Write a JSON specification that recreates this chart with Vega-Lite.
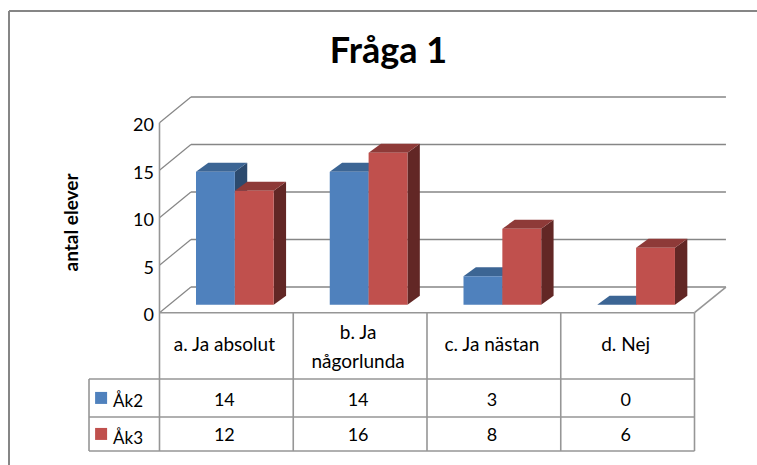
{
"$schema":"https://vega.github.io/schema/vega-lite/v6.json",
"width":757,"height":465,"padding":0,"autosize":{"type":"none"},"background":"white",
"title":{"text":"Fråga 1","font":"Lato","fontSize":36,"fontWeight":"bold","color":"#000000","anchor":"middle","dx":10,"offset":-71},
"config":{"view":{"stroke":null}},
"datasets":{
"bars":[
{"cat":"a. Ja absolut","i":0,"series":"Åk2","s":0,"value":14},
{"cat":"a. Ja absolut","i":0,"series":"Åk3","s":1,"value":12},
{"cat":"b. Ja\nnågorlunda","i":1,"series":"Åk2","s":0,"value":14},
{"cat":"b. Ja\nnågorlunda","i":1,"series":"Åk3","s":1,"value":16},
{"cat":"c. Ja nästan","i":2,"series":"Åk2","s":0,"value":3},
{"cat":"c. Ja nästan","i":2,"series":"Åk3","s":1,"value":8},
{"cat":"d. Nej","i":3,"series":"Åk2","s":0,"value":0},
{"cat":"d. Nej","i":3,"series":"Åk3","s":1,"value":6}],
"grid":[{"v":0},{"v":5},{"v":10},{"v":15},{"v":20}],
"lines":[
{"x1":0,"x2":0,"y1":20,"y2":-14.56},
{"x1":1,"x2":1,"y1":0,"y2":-14.56},
{"x1":2,"x2":2,"y1":0,"y2":-14.56},
{"x1":3,"x2":3,"y1":0,"y2":-14.56},
{"x1":4,"x2":4,"y1":0,"y2":-14.56},
{"x1":-0.527,"x2":-0.527,"y1":-6.98,"y2":-14.56},
{"x1":0,"x2":4,"y1":0,"y2":0},
{"x1":-0.527,"x2":4,"y1":-6.98,"y2":-6.98},
{"x1":-0.527,"x2":4,"y1":-10.97,"y2":-10.97},
{"x1":-0.527,"x2":4,"y1":-14.56,"y2":-14.56},
{"x1":4,"x2":4.2351,"y1":0,"y2":2.705}],
"frame":[
{"x1":-1.1252,"x2":4.4673,"y1":31.76,"y2":31.76},
{"x1":-1.1252,"x2":-1.1252,"y1":31.76,"y2":-16.03}]
},
"layer":[
{"data":{"name":"grid"},
 "transform":[{"calculate":"datum.v+2.705","as":"yb"},{"calculate":"0","as":"x0"},{"calculate":"0.2351","as":"xb"}],
 "mark":{"type":"rule","stroke":"#868686","strokeWidth":1.2},
 "encoding":{"x":{"field":"x0","type":"quantitative","scale":{"domain":[-1.1925,4.4673],"nice":false,"zero":false},"axis":null},"x2":{"field":"xb"},
 "y":{"field":"v","type":"quantitative","title":"antal elever","scale":{"domain":[-16.03,32.916],"nice":false,"zero":false},
   "axis":{"values":[0,5,10,15,20],"offset":-159.5,"domain":false,"ticks":false,"grid":false,"labelFont":"Lato","labelFontSize":18,"labelColor":"#000000","labelPadding":6,"labelOffset":3,"titleFont":"Lato","titleFontSize":19,"titleFontWeight":"bold","titleColor":"#000000","titleX":-88,"titleY":222,"titleAngle":270,"titleBaseline":"middle","titleAnchor":"middle"}},"y2":{"field":"yb"}}},
{"data":{"name":"grid"},
 "transform":[{"calculate":"datum.v+2.705","as":"yb"},{"calculate":"0.2351","as":"xb"},{"calculate":"4.2351","as":"xe"}],
 "mark":{"type":"rule","stroke":"#868686","strokeWidth":1.5},
 "encoding":{"x":{"field":"xb","type":"quantitative","scale":{"domain":[-1.1925,4.4673],"nice":false,"zero":false},"axis":null},"x2":{"field":"xe"},
 "y":{"field":"yb","type":"quantitative","scale":{"domain":[-16.03,32.916],"nice":false,"zero":false}}}},
{"data":{"name":"lines"},
 "mark":{"type":"rule","stroke":"#969696","strokeWidth":1.6},
 "encoding":{"x":{"field":"x1","type":"quantitative","scale":{"domain":[-1.1925,4.4673],"nice":false,"zero":false},"axis":null},"x2":{"field":"x2"},
 "y":{"field":"y1","type":"quantitative","scale":{"domain":[-16.03,32.916],"nice":false,"zero":false}},"y2":{"field":"y2"}}},
{"data":{"name":"frame"},
 "mark":{"type":"rule","stroke":"#868686","strokeWidth":2},
 "encoding":{"x":{"field":"x1","type":"quantitative","scale":{"domain":[-1.1925,4.4673],"nice":false,"zero":false},"axis":null},"x2":{"field":"x2"},
 "y":{"field":"y1","type":"quantitative","scale":{"domain":[-16.03,32.916],"nice":false,"zero":false}},"y2":{"field":"y2"}}},
{"data":{"name":"bars"},
 "transform":[{"calculate":"[0,1]","as":"t"},{"flatten":["t"]},
  {"calculate":"datum.i+0.2729+datum.s*0.2905+0.2905+datum.t*0.0925","as":"xs"},
  {"calculate":"datum.value+0.842+datum.t*0.947","as":"yt"},
  {"calculate":"0.842+datum.t*0.947","as":"yb"}],
 "mark":{"type":"area","orient":"vertical"},
 "encoding":{"x":{"field":"xs","type":"quantitative","scale":{"domain":[-1.1925,4.4673],"nice":false,"zero":false},"axis":null},
 "y":{"field":"yt","type":"quantitative","stack":null,"scale":{"domain":[-16.03,32.916],"nice":false,"zero":false}},"y2":{"field":"yb"},
 "detail":{"field":"i"},
 "color":{"field":"series","type":"nominal","legend":null,"scale":{"domain":["Åk2","Åk3"],"range":["#2C4A6E","#622725"]}}}},
{"data":{"name":"bars"},
 "transform":[{"calculate":"[0,1]","as":"t"},{"flatten":["t"]},
  {"calculate":"datum.i+0.2729+datum.s*0.2905+datum.t*0.0925","as":"xl"},
  {"calculate":"datum.xl+0.2905","as":"xr"},
  {"calculate":"datum.value+0.842+datum.t*0.947","as":"yt"}],
 "mark":{"type":"area","orient":"horizontal"},
 "encoding":{"y":{"field":"yt","type":"quantitative","scale":{"domain":[-16.03,32.916],"nice":false,"zero":false}},
 "x":{"field":"xl","type":"quantitative","stack":null,"scale":{"domain":[-1.1925,4.4673],"nice":false,"zero":false},"axis":null},"x2":{"field":"xr"},
 "detail":{"field":"i"},
 "color":{"field":"series","type":"nominal","legend":null,"scale":{"domain":["Åk2","Åk3"],"range":["#3C6594","#8E3A38"]}}}},
{"data":{"name":"bars"},
 "transform":[{"calculate":"datum.i+0.2729+datum.s*0.2905","as":"xl"},{"calculate":"datum.xl+0.2905","as":"xr"},{"calculate":"datum.value+0.842","as":"yt"},{"calculate":"0.842","as":"yb"}],
 "mark":{"type":"rect"},
 "encoding":{"x":{"field":"xl","type":"quantitative","scale":{"domain":[-1.1925,4.4673],"nice":false,"zero":false},"axis":null},"x2":{"field":"xr"},
 "y":{"field":"yt","type":"quantitative","scale":{"domain":[-16.03,32.916],"nice":false,"zero":false}},"y2":{"field":"yb"},
 "color":{"field":"series","type":"nominal","legend":null,"scale":{"domain":["Åk2","Åk3"],"range":["#4F81BD","#C0504D"]}}}},
{"data":{"name":"bars"},
 "transform":[{"filter":"datum.s==0"},{"calculate":"datum.i+0.485","as":"xc"},{"calculate":"datum.i==1?-2.14:-3.4","as":"yc"}],
 "mark":{"type":"text","font":"Lato","fontSize":19,"color":"#000000","align":"center","baseline":"middle","lineBreak":"\n","lineHeight":29},
 "encoding":{"x":{"field":"xc","type":"quantitative","scale":{"domain":[-1.1925,4.4673],"nice":false,"zero":false},"axis":null},
 "y":{"field":"yc","type":"quantitative","scale":{"domain":[-16.03,32.916],"nice":false,"zero":false}},"text":{"field":"cat"}}},
{"data":{"name":"bars"},
 "transform":[{"calculate":"datum.i+0.485","as":"xc"},{"calculate":"-9.3-datum.s*3.73","as":"yc"}],
 "mark":{"type":"text","font":"Lato","fontSize":18,"color":"#000000","align":"center","baseline":"middle"},
 "encoding":{"x":{"field":"xc","type":"quantitative","scale":{"domain":[-1.1925,4.4673],"nice":false,"zero":false},"axis":null},
 "y":{"field":"yc","type":"quantitative","scale":{"domain":[-16.03,32.916],"nice":false,"zero":false}},"text":{"field":"value"}}},
{"data":{"name":"bars"},
 "transform":[{"filter":"datum.i==0"},{"calculate":"-0.4366","as":"xc"},{"calculate":"-8.97-datum.s*3.79","as":"yc"}],
 "mark":{"type":"square","size":144,"opacity":1},
 "encoding":{"x":{"field":"xc","type":"quantitative","scale":{"domain":[-1.1925,4.4673],"nice":false,"zero":false},"axis":null},
 "y":{"field":"yc","type":"quantitative","scale":{"domain":[-16.03,32.916],"nice":false,"zero":false}},
 "color":{"field":"series","type":"nominal","legend":null,"scale":{"domain":["Åk2","Åk3"],"range":["#4F81BD","#C0504D"]}}}},
{"data":{"name":"bars"},
 "transform":[{"filter":"datum.i==0"},{"calculate":"-0.347","as":"xc"},{"calculate":"-9.45-datum.s*3.85","as":"yc"}],
 "mark":{"type":"text","font":"Lato","fontSize":17,"color":"#000000","align":"left","baseline":"middle"},
 "encoding":{"x":{"field":"xc","type":"quantitative","scale":{"domain":[-1.1925,4.4673],"nice":false,"zero":false},"axis":null},
 "y":{"field":"yc","type":"quantitative","scale":{"domain":[-16.03,32.916],"nice":false,"zero":false}},"text":{"field":"series"}}}
],
"resolve":{"scale":{"color":"independent"}}
}
